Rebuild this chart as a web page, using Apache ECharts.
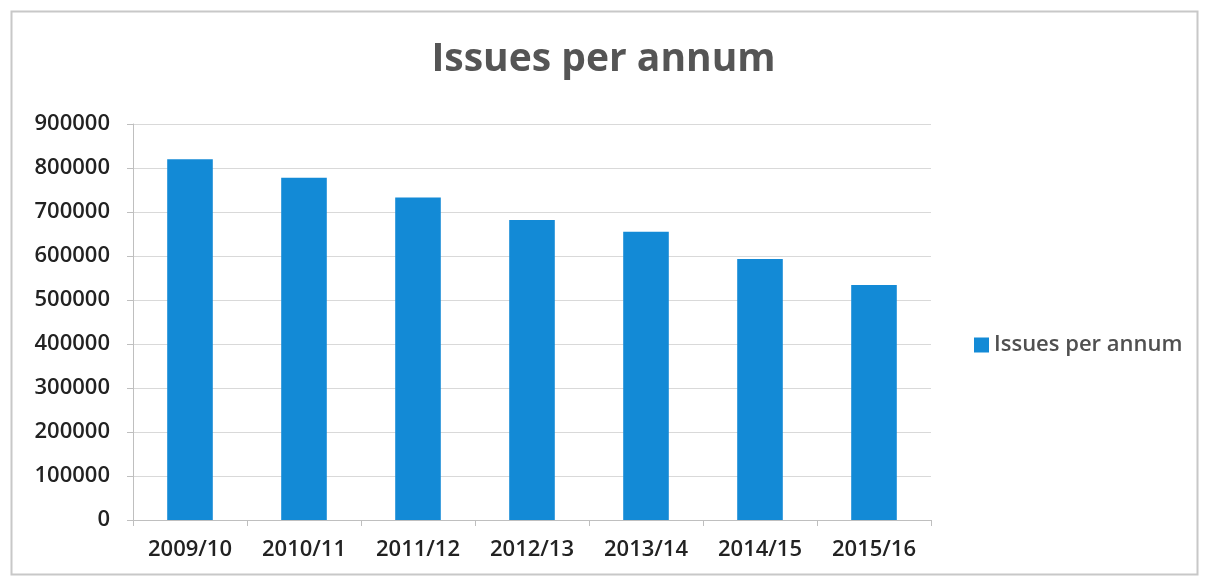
<!DOCTYPE html>
<html>
<head>
<meta charset="utf-8">
<script src="https://cdn.jsdelivr.net/npm/echarts@6/dist/echarts.min.js"></script>
<style>
  html, body { margin: 0; padding: 0; background: #fff; }
  #chart { width: 1207px; height: 580px; }
</style>
</head>
<body>
<div id="chart"></div>
<script>
// Annual issue counts by financial year
const years = ['2009/10', '2010/11', '2011/12', '2012/13', '2013/14', '2014/15', '2015/16'];
const issues = [820000, 778000, 733000, 682000, 655000, 593000, 534000];
const seriesName = 'Issues per annum';

const chart = echarts.init(document.getElementById('chart'));
const font = '"Open Sans", "Liberation Sans", sans-serif';

chart.setOption({
  animation: false,
  backgroundColor: '#fff',
  textStyle: { fontFamily: font },
  title: {
    text: 'Issues per annum',
    left: 'center',
    top: 35,
    textStyle: { fontSize: 39, fontWeight: 'bold', color: '#555555', fontFamily: font }
  },
  legend: {
    orient: 'vertical',
    left: 969,
    top: 329,
    itemWidth: 15,
    itemHeight: 15,
    itemGap: 8,
    icon: 'rect',
    textStyle: { fontSize: 22, fontWeight: 600, color: '#505050', fontFamily: font },
    data: [seriesName]
  },
  grid: { left: 133, right: 276, top: 124, bottom: 60 },
  xAxis: {
    type: 'category',
    data: years,
    axisLine: { lineStyle: { color: '#bfbfbf', width: 1 } },
    axisTick: { show: true, alignWithLabel: false, length: 6, lineStyle: { color: '#bfbfbf' } },
    axisLabel: { fontSize: 22, fontWeight: 600, color: '#222222', margin: 19, fontFamily: font }
  },
  yAxis: {
    type: 'value',
    min: 0,
    max: 900000,
    interval: 100000,
    axisLine: { show: true, lineStyle: { color: '#bfbfbf' } },
    axisTick: { show: true, length: 6, lineStyle: { color: '#bfbfbf' } },
    splitLine: { lineStyle: { color: '#d9d9d9' } },
    axisLabel: {
      fontSize: 22, fontWeight: 600, color: '#222222', margin: 23, fontFamily: font,
      formatter: v => String(v)
    }
  },
  series: [{
    name: seriesName,
    type: 'bar',
    data: issues,
    barWidth: '40%',
    itemStyle: { color: '#138ad6' }
  }],
  graphic: [{
    type: 'rect',
    shape: { x: 11.5, y: 11.5, width: 1186, height: 563 },
    style: { fill: 'none', stroke: '#c8c8c8', lineWidth: 2 },
    silent: true
  }]
});
</script>
</body>
</html>
